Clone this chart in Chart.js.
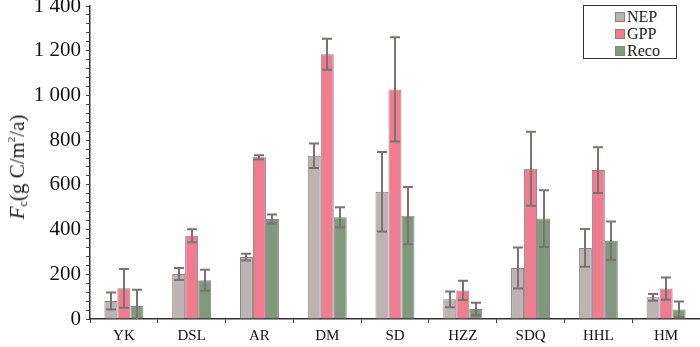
<!DOCTYPE html>
<html>
<head>
<meta charset="utf-8">
<script src="https://cdn.jsdelivr.net/npm/chart.js@4"></script>
<style>
  body { margin: 0; background: #fff; }
  #wrap { position: relative; width: 700px; height: 347px; }
  #yTitle {
    position: absolute; left: 18px; top: 167px;
    transform: translate(-50%, -50%) rotate(-90deg);
    font: 21px "Liberation Serif", serif; color: #222; white-space: nowrap;
  }
  #yTitle sub { font-size: 12px; vertical-align: -3px; }
  #yTitle sup { font-size: 11px; vertical-align: 9px; }
  #legend {
    position: absolute; left: 583px; top: 5px; width: 92px; height: 52px;
    border: 1px solid #333; background: #fff;
    font: 16px "Liberation Serif", serif; color: #222;
  }
  #legend div { position: absolute; left: 31px; height: 17px; line-height: 17px; }
  #legend span { display: inline-block; width: 8px; height: 8px; border: 1px solid #8a8080; margin-right: 2px; vertical-align: 0px; }
</style>
</head>
<body>
<div id="wrap">
  <canvas id="chart" width="700" height="347"></canvas>
  <div id="yTitle"><i>F</i><sub>c</sub>(g C/m<sup>2</sup>/a)</div>
  <div id="legend"></div>
</div>
<script>
const sites = ['YK', 'DSL', 'AR', 'DM', 'SD', 'HZZ', 'SDQ', 'HHL', 'HM'];

const nep = [81, 201, 277, 730, 569, 88, 228, 318, 97];
const gpp = [137, 372, 723, 1184, 1027, 128, 672, 666, 136];
const reco = [58, 173, 447, 455, 462, 45, 449, 350, 43];

const nepErr = [38, 27, 15, 55, 178, 35, 92, 84, 15];
const gppErr = [87, 29, 9, 69, 233, 43, 166, 102, 50];
const recoErr = [73, 47, 20, 45, 128, 28, 127, 86, 35];

const seriesNames = ['NEP', 'GPP', 'Reco'];
const colors = ['#bbb4b3', '#f07c90', '#7e9a7a'];

const errorBars = {
    id: 'errorBars',
    afterDatasetsDraw(chart) {
        const c = chart.ctx;
        const y = chart.scales.y;
        c.save();
        c.strokeStyle = '#7d7272';
        c.lineWidth = 2;
        chart.data.datasets.forEach((ds, i) => {
            const meta = chart.getDatasetMeta(i);
            meta.data.forEach((bar, j) => {
                const v = ds.data[j], e = ds.errors[j];
                const top = y.getPixelForValue(v + e);
                const bot = y.getPixelForValue(Math.max(v - e, 0));
                const x = Math.round(bar.x);
                c.beginPath();
                c.moveTo(x, top); c.lineTo(x, bot);
                c.moveTo(x - 5, top); c.lineTo(x + 5, top);
                if (v - e > 0) { c.moveTo(x - 5, bot); c.lineTo(x + 5, bot); }
                c.stroke();
            });
        });
        c.restore();
    }
};

const makeSet = (k, data, errors) => ({
    label: seriesNames[k],
    data: data,
    errors: errors,
    backgroundColor: colors[k],
    borderColor: '#8d8484',
    borderWidth: 1,
    categoryPercentage: 0.575,
    barPercentage: 1.0
});

new Chart(document.getElementById('chart').getContext('2d'), {
    type: 'bar',
    data: {
        labels: sites,
        datasets: [
            makeSet(0, nep, nepErr),
            makeSet(1, gpp, gppErr),
            makeSet(2, reco, recoErr)
        ]
    },
    options: {
        responsive: false,
        animation: false,
        layout: { padding: { top: 6, right: 0, left: 0, bottom: 0 } },
        plugins: { legend: { display: false }, tooltip: { enabled: false } },
        scales: {
            x: {
                grid: { drawOnChartArea: false, drawTicks: true, tickLength: 4, color: '#444' },
                border: { color: '#333', width: 1.5 },
                ticks: { color: '#111', font: { family: 'Liberation Serif', size: 15 }, padding: 4, maxRotation: 0 },
                afterFit(s) { s.height = 28; s.paddingLeft = 0; s.paddingRight = 0; }
            },
            y: {
                min: 0,
                max: 1400,
                grid: { drawOnChartArea: false, drawTicks: true, tickLength: 4, color: '#444' },
                border: { color: '#333', width: 1.5 },
                ticks: {
                    stepSize: 40,
                    autoSkip: false,
                    color: '#111',
                    padding: 5,
                    font: { family: 'Liberation Serif', size: 21 },
                    callback: v => v % 200 === 0 ? String(v).replace(/\B(?=(\d{3})+(?!\d))/g, ' ') : ''
                },
                afterFit(s) { s.width = 90; s.paddingTop = 0; s.paddingBottom = 0; }
            }
        }
    },
    plugins: [errorBars]
});

const legend = document.getElementById('legend');
seriesNames.forEach((n, k) => {
    const d = document.createElement('div');
    d.style.top = (2 + k * 17) + 'px';
    d.innerHTML = '<span style="background:' + colors[k] + '"></span>' + n;
    legend.appendChild(d);
});
</script>
</body>
</html>
